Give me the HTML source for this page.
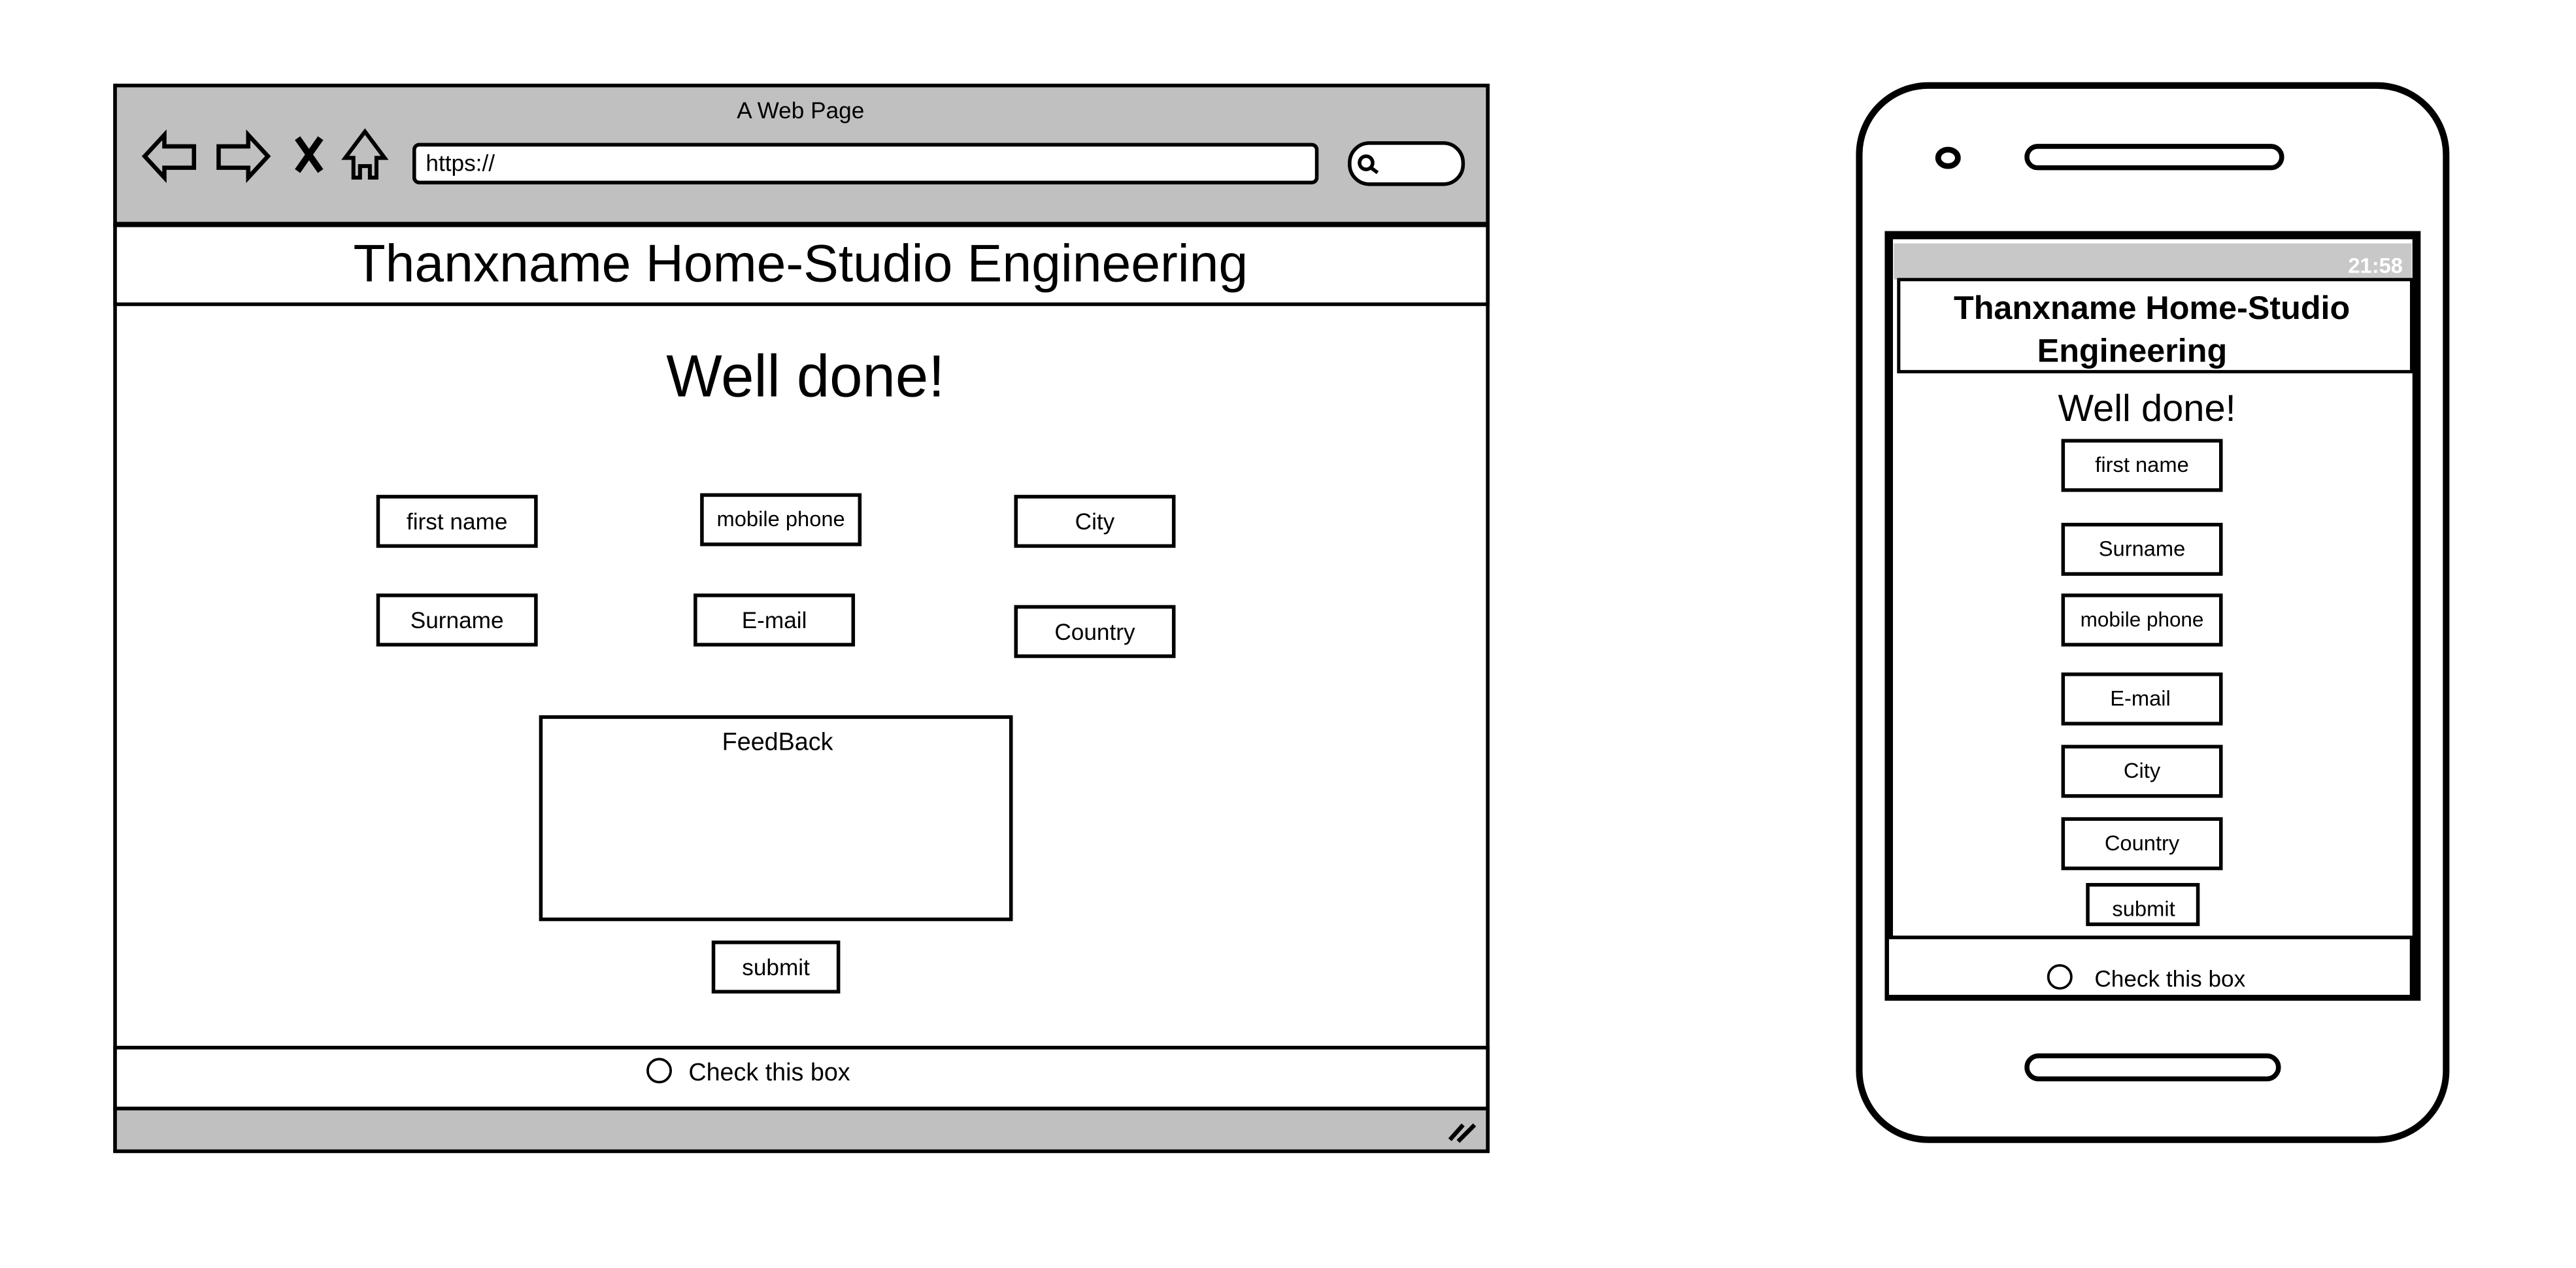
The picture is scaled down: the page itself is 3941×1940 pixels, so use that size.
<!DOCTYPE html>
<html><head><meta charset="utf-8"><style>html,body{margin:0;padding:0;background:#fff;}svg{display:block;}</style></head>
<body>
<svg width="3941" height="1940" viewBox="0 0 1567 771" preserveAspectRatio="none" xmlns="http://www.w3.org/2000/svg" font-family="Liberation Sans, sans-serif">
<rect width="1567" height="771" fill="#fff"/>
<g stroke="#000" stroke-width="2.2" fill="none">
<!-- browser -->
<rect x="70" y="52" width="835" height="648" fill="#fff"/>
<rect x="70" y="52" width="835" height="84" fill="#c0c0c0"/>
<rect x="70" y="674" width="835" height="26" fill="#c0c0c0"/>
<rect x="252" y="88" width="549" height="23" rx="3" fill="#fff"/>
<rect x="821" y="87" width="69" height="25" rx="12" fill="#fff"/>
<circle cx="831" cy="99" r="4"/><line x1="834" y1="102" x2="838" y2="105"/>
<path d="M88,95 L100,82 L100,89 L118,89 L118,102 L100,102 L100,108 Z" stroke-width="2.6"/>
<path d="M163,95 L151,82 L151,89 L133,89 L133,102 L151,102 L151,108 Z" stroke-width="2.6"/>
<path d="M181,84 L195,104 M195,84 L181,104" stroke-width="4"/>
<path d="M210,96 L222,80 L234,96 L229,96 L229,108 L225,108 L225,101 L219,101 L219,108 L215,108 L215,96 Z" stroke-width="2.4"/>
<path d="M882,693 L890,684 M887,694 L897,684" stroke-width="2.6"/>
<rect x="70" y="137" width="835" height="48" fill="#fff"/>
<rect x="70" y="637" width="835" height="37" fill="#fff"/>
<circle cx="401" cy="651" r="7" stroke-width="1.5"/>
<rect x="230" y="302" width="96" height="30"/>
<rect x="427" y="301" width="96" height="30"/>
<rect x="618" y="302" width="96" height="30"/>
<rect x="230" y="362" width="96" height="30"/>
<rect x="423" y="362" width="96" height="30"/>
<rect x="618" y="369" width="96" height="30"/>
<rect x="329" y="436" width="286" height="123"/>
<rect x="434" y="573" width="76" height="30"/>
<!-- phone -->
<rect x="1131" y="52" width="357" height="641" rx="42" stroke-width="4"/>
<ellipse cx="1185" cy="96" rx="6" ry="5" stroke-width="3.5"/>
<rect x="1233" y="89" width="155" height="13" rx="6.5" stroke-width="3"/>
<rect x="1233" y="642" width="153" height="14" rx="7" stroke-width="3"/>
<rect x="1149" y="143" width="321" height="463" stroke-width="5"/>
<rect x="1152" y="148" width="315" height="22" fill="#c8c8c8" stroke="none"/>
<rect x="1155" y="170" width="312" height="56" fill="#fff" stroke-width="2"/>
<rect x="1255" y="268" width="96" height="30"/>
<rect x="1255" y="319" width="96" height="30"/>
<rect x="1255" y="362" width="96" height="30"/>
<rect x="1255" y="410" width="96" height="30"/>
<rect x="1255" y="454" width="96" height="30"/>
<rect x="1255" y="498" width="96" height="30"/>
<rect x="1270" y="538" width="67" height="24"/>
<rect x="1148" y="570" width="319" height="36" fill="#fff"/>
<circle cx="1253" cy="594" r="7" stroke-width="1.5"/>
</g>
<g fill="#000" text-anchor="middle">
<text x="487" y="72" font-size="14">A Web Page</text>
<text x="259" y="104" font-size="14" text-anchor="start">https://</text>
<text x="487" y="171" font-size="32">Thanxname Home-Studio Engineering</text>
<text x="490" y="241" font-size="36">Well done!</text>
<text x="278" y="322" font-size="14">first name</text>
<text x="475" y="320" font-size="13">mobile phone</text>
<text x="666" y="322" font-size="14">City</text>
<text x="278" y="382" font-size="14">Surname</text>
<text x="471" y="382" font-size="14">E-mail</text>
<text x="666" y="389" font-size="14">Country</text>
<text x="473" y="456" font-size="15">FeedBack</text>
<text x="472" y="593" font-size="14">submit</text>
<text x="468" y="657" font-size="15" >Check this box</text>
<text x="1445" y="166" font-size="13" fill="#fff" font-weight="bold">21:58</text>
<text x="1309" y="194" font-size="20" font-weight="bold">Thanxname Home-Studio</text>
<text x="1297" y="220" font-size="20" font-weight="bold">Engineering</text>
<text x="1306" y="256" font-size="23">Well done!</text>
<text x="1303" y="287" font-size="13">first name</text>
<text x="1303" y="338" font-size="13">Surname</text>
<text x="1303" y="381" font-size="12.5">mobile phone</text>
<text x="1302" y="429" font-size="13">E-mail</text>
<text x="1303" y="473" font-size="13">City</text>
<text x="1303" y="517" font-size="13">Country</text>
<text x="1304" y="557" font-size="13">submit</text>
<text x="1320" y="600" font-size="14">Check this box</text>
</g>
</svg>
</body></html>
